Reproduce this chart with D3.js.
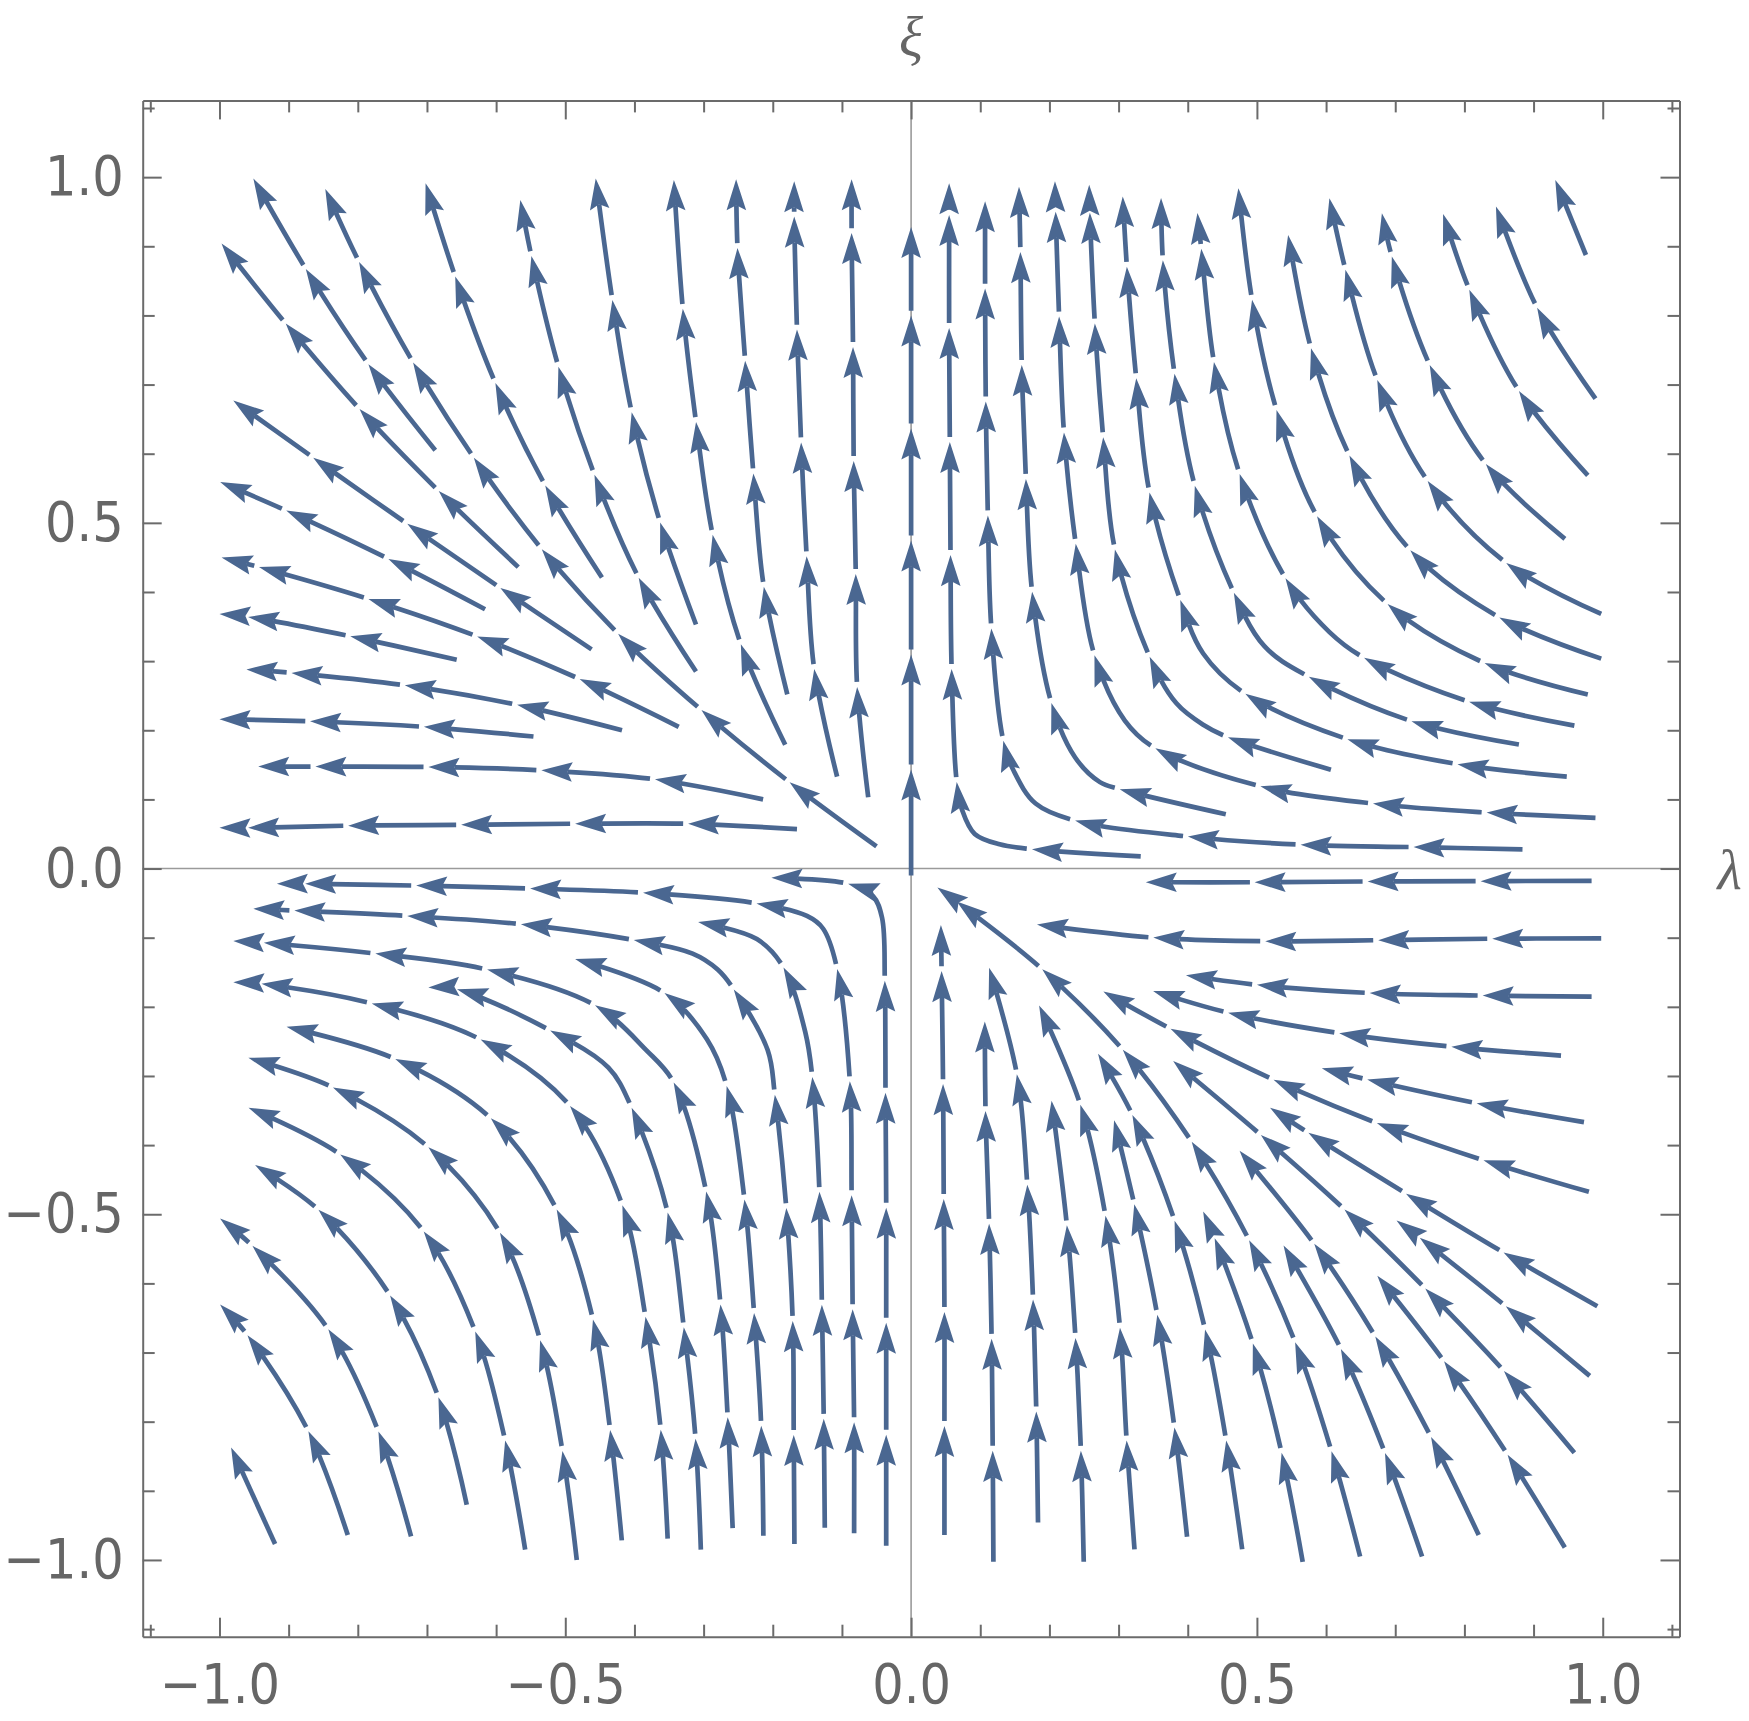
<!DOCTYPE html>
<html lang="en">
<head>
<meta charset="UTF-8">
<script src="https://d3js.org/d3.v7.min.js"></script>
<title>Stream plot</title>
<style>
    body { margin: 0; background: #fff; }
    .tick text { font-family: "DejaVu Sans Condensed", "DejaVu Sans", sans-serif; font-size: 55px; fill: #666; }
    .tick line, .domain { stroke: #6b6b6b; stroke-width: 2; }
    .title { font-family: "Liberation Serif", serif; font-style: italic; font-size: 56px; fill: #666; }
</style>
</head>
<body>
<script>
    // each streamline runs from its tail to its head, points are [lambda, xi]
    // every point after the tail carries an arrowhead, a third value 0 marks a bend point without one
    var upperLeft = [
        [[-0.688, 0.605], [-0.785, 0.730], [-0.875, 0.867], [-0.951, 0.998]],
        [[-0.568, 0.436], [-0.683, 0.546], [-0.797, 0.664], [-0.904, 0.788], [-0.997, 0.904]],
        [[-0.462, 0.317], [-0.594, 0.406], [-0.729, 0.499], [-0.864, 0.594], [-0.980, 0.677]],
        [[-0.616, 0.375], [-0.756, 0.448], [-0.904, 0.518], [-0.999, 0.559]],
        [[-0.336, 0.205], [-0.479, 0.274], [-0.628, 0.336], [-0.785, 0.390], [-0.943, 0.436], [-0.997, 0.450]],
        [[-0.050, 0.032], [-0.176, 0.125], [-0.303, 0.229], [-0.424, 0.340], [-0.534, 0.462], [-0.632, 0.594], [-0.720, 0.732], [-0.798, 0.877], [-0.847, 0.983]],
        [[-0.447, 0.421], [-0.529, 0.554], [-0.601, 0.702], [-0.659, 0.856], [-0.702, 0.991]],
        [[-0.311, 0.285], [-0.394, 0.421], [-0.458, 0.570], [-0.510, 0.726], [-0.549, 0.886], [-0.565, 0.967]],
        [[-0.311, 0.353], [-0.363, 0.501], [-0.404, 0.660], [-0.432, 0.823], [-0.456, 0.998]],
        [[-0.182, 0.179], [-0.246, 0.324], [-0.287, 0.483], [-0.311, 0.646], [-0.330, 0.809], [-0.343, 0.996]],
        [[-0.179, 0.252], [-0.213, 0.408], [-0.228, 0.571], [-0.240, 0.735], [-0.251, 0.897], [-0.253, 0.997]],
        [[-0.107, 0.133], [-0.140, 0.288], [-0.151, 0.451], [-0.159, 0.616], [-0.165, 0.780], [-0.169, 0.943], [-0.169, 0.994]],
        [[-0.062, 0.103], [-0.078, 0.262], [-0.080, 0.426], [-0.083, 0.590], [-0.084, 0.755], [-0.086, 0.919], [-0.086, 0.997]],
        [[0, -0.010], [0, 0.143], [0, 0.309], [0, 0.474], [0, 0.636], [0, 0.800], [0, 0.928]],
        [[-0.657, 0.302], [-0.811, 0.336], [-0.959, 0.364], [-1.0, 0.368]],
        [[-0.418, 0.200], [-0.570, 0.237], [-0.732, 0.265], [-0.896, 0.283], [-0.961, 0.288]],
        [[-0.546, 0.191], [-0.705, 0.205], [-0.869, 0.213], [-1.0, 0.216]],
        [[-0.214, 0.100], [-0.370, 0.129], [-0.534, 0.142], [-0.698, 0.147], [-0.862, 0.1475], [-0.944, 0.1475]],
        [[-0.165, 0.057], [-0.322, 0.0648], [-0.486, 0.0648], [-0.650, 0.0632], [-0.814, 0.062], [-0.958, 0.059], [-1.0, 0.059]]
    ];

    var upperRight = [
        [[0.332, 0.0175], [0.175, 0.028], [0.128, 0.035, 0], [0.092, 0.050, 0], [0.074, 0.084, 0], [0.066, 0.125], [0.0586, 0.288], [0.057, 0.453], [0.056, 0.617], [0.055, 0.781], [0.055, 0.945], [0.055, 0.991]],
        [[0.884, 0.0278], [0.727, 0.031], [0.563, 0.0346], [0.400, 0.0464], [0.237, 0.0694], [0.180, 0.094, 0], [0.149, 0.140, 0], [0.1334, 0.1847], [0.116, 0.348], [0.111, 0.511], [0.108, 0.675], [0.107, 0.839], [0.107, 0.965]],
        [[0.455, 0.0785], [0.301, 0.115], [0.273, 0.125, 0], [0.237, 0.161, 0], [0.203, 0.239], [0.175, 0.400], [0.166, 0.564], [0.160, 0.728], [0.158, 0.892], [0.156, 0.986]],
        [[0.9895, 0.0733], [0.832, 0.081], [0.668, 0.094], [0.505, 0.119], [0.353, 0.174], [0.309, 0.214, 0], [0.265, 0.309], [0.238, 0.470], [0.221, 0.631], [0.214, 0.798], [0.209, 0.950], [0.208, 0.994]],
        [[0.607, 0.143], [0.458, 0.190], [0.4223, 0.208, 0], [0.3836, 0.239, 0], [0.345, 0.306], [0.2946, 0.462], [0.2777, 0.624], [0.2657, 0.788], [0.2585, 0.948], [0.2575, 0.989]],
        [[0.948, 0.133], [0.7902, 0.151], [0.6313, 0.187], [0.483, 0.253], [0.4223, 0.311, 0], [0.389, 0.389], [0.3447, 0.544], [0.3255, 0.709], [0.312, 0.870], [0.306, 0.972]],
        [[0.8788, 0.1794], [0.7238, 0.2131], [0.5744, 0.2777], [0.5108, 0.3216, 0], [0.4665, 0.3992], [0.4101, 0.554], [0.3808, 0.716], [0.364, 0.880], [0.3614, 0.970]],
        [[0.959, 0.2068], [0.8068, 0.2414], [0.6546, 0.305], [0.6049, 0.342, 0], [0.5413, 0.4199], [0.4749, 0.571], [0.4378, 0.733], [0.4195, 0.897], [0.414, 0.948]],
        [[0.9784, 0.2518], [0.829, 0.2973], [0.6889, 0.3827], [0.5872, 0.5092], [0.5284, 0.663], [0.4931, 0.822], [0.4732, 0.984]],
        [[0.9978, 0.3036], [0.851, 0.363], [0.7222, 0.46], [0.6337, 0.5976], [0.5783, 0.752], [0.5451, 0.9164]],
        [[0.9978, 0.3682], [0.8605, 0.4421], [0.7471, 0.5604], [0.6741, 0.7063], [0.6281, 0.8657], [0.6048, 0.9695]],
        [[0.9453, 0.4769], [0.8307, 0.5855], [0.7499, 0.728], [0.6951, 0.885], [0.6807, 0.9478]],
        [[0.9784, 0.5686], [0.8788, 0.6908], [0.8069, 0.8377], [0.7692, 0.9468]],
        [[0.9895, 0.6797], [0.9049, 0.8116], [0.8456, 0.9574]],
        [[0.9757, 0.8874], [0.9314, 0.996]]
    ];

    var lowerLeft = [
        [[-0.0824, -0.9613], [-0.0824, -0.801], [-0.0845, -0.638], [-0.086, -0.4727], [-0.0886, -0.3073], [-0.1067, -0.146], [-0.1274, -0.0867, 0], [-0.1506, -0.0686, 0], [-0.223, -0.0505], [-0.387, -0.035], [-0.551, -0.0288], [-0.715, -0.0247], [-0.876, -0.022], [-0.917, -0.022]],
        [[-0.036, -0.9794], [-0.036, -0.8191], [-0.036, -0.6563], [-0.036, -0.491], [-0.037, -0.3245], [-0.038, -0.1617], [-0.042, -0.0712, 0], [-0.055, -0.040, 0], [-0.0912, -0.022], [-0.202, -0.0133]],
        [[-0.1687, -0.9768], [-0.1697, -0.8191], [-0.1712, -0.6537], [-0.1805, -0.4908], [-0.197, -0.327], [-0.2074, -0.2625, 0], [-0.2565, -0.1746], [-0.2797, -0.146, 0], [-0.3159, -0.123, 0], [-0.4014, -0.1033], [-0.564, -0.0805], [-0.728, -0.0686], [-0.892, -0.0608], [-0.951, -0.058]],
        [[-0.1248, -0.9535], [-0.1263, -0.7959], [-0.129, -0.6304], [-0.1325, -0.4676], [-0.1429, -0.301], [-0.153, -0.2366, 0], [-0.1842, -0.1436], [-0.223, -0.102, 0], [-0.308, -0.0774]],
        [[-0.2136, -0.965], [-0.2167, -0.8062], [-0.227, -0.6434], [-0.241, -0.478], [-0.2668, -0.314], [-0.2952, -0.247, 0], [-0.357, -0.1798], [-0.4858, -0.1307]],
        [[-0.258, -0.954], [-0.2652, -0.7933], [-0.2756, -0.6304], [-0.2962, -0.4676], [-0.343, -0.31], [-0.383, -0.2625, 0], [-0.457, -0.1978], [-0.6135, -0.146], [-0.775, -0.1229], [-0.9365, -0.1074], [-0.98, -0.1048]],
        [[-0.4834, -1.0], [-0.5041, -0.8424], [-0.5364, -0.6821], [-0.5943, -0.527], [-0.698, -0.403], [-0.8353, -0.3168], [-0.9582, -0.2738]],
        [[-0.4183, -0.9717], [-0.4352, -0.8114], [-0.46, -0.652], [-0.5123, -0.4934], [-0.6073, -0.3616], [-0.746, -0.2754], [-0.903, -0.2289]],
        [[-0.304, -0.985], [-0.3117, -0.8243], [-0.3287, -0.663], [-0.352, -0.4975], [-0.404, -0.346], [-0.4376, -0.288, 0], [-0.522, -0.234], [-0.657, -0.1746], [-0.698, -0.172]],
        [[-0.352, -0.969], [-0.362, -0.8114], [-0.384, -0.6485], [-0.4175, -0.487], [-0.493, -0.3435], [-0.623, -0.247], [-0.780, -0.195], [-0.939, -0.1668], [-0.98, -0.1643]],
        [[-0.558, -0.985], [-0.587, -0.827], [-0.6304, -0.6692], [-0.705, -0.5244], [-0.8256, -0.4133], [-0.958, -0.346]],
        [[-0.6425, -0.92], [-0.6834, -0.7649], [-0.7533, -0.6175], [-0.857, -0.4934], [-0.9485, -0.4288]],
        [[-0.723, -0.966], [-0.7702, -0.814], [-0.8425, -0.6666], [-0.952, -0.5461], [-0.9991, -0.5063]],
        [[-0.8145, -0.964], [-0.8714, -0.814], [-0.9591, -0.6754], [-0.9991, -0.6304]],
        [[-0.9196, -0.977], [-0.9832, -0.8372]]
    ];

    var lowerRight = [
        [[0.9839, -0.0177], [0.8235, -0.0182], [0.6602, -0.0187], [0.4969, -0.0198], [0.3393, -0.0198]],
        [[0.9978, -0.101], [0.84, -0.1015], [0.6758, -0.1036], [0.5121, -0.1051], [0.3504, -0.0999], [0.182, -0.081]],
        [[0.9839, -0.1853], [0.8262, -0.1837], [0.663, -0.18], [0.4998, -0.1682], [0.3974, -0.1542]],
        [[0.9397, -0.2705], [0.7808, -0.2576], [0.6187, -0.238], [0.4583, -0.2085], [0.3499, -0.177]],
        [[0.9729, -0.3668], [0.818, -0.3395], [0.659, -0.305], [0.5938, -0.2887]],
        [[0.98, -0.4676], [0.8279, -0.4221], [0.674, -0.3683], [0.5245, -0.3057], [0.3752, -0.2318], [0.278, -0.178]],
        [[0.9922, -0.633], [0.8567, -0.5555], [0.7156, -0.4702], [0.5745, -0.3823], [0.519, -0.346]],
        [[0.9812, -0.7338], [0.86, -0.6332], [0.7356, -0.5342], [0.7019, -0.5091]],
        [[0.959, -0.845], [0.8567, -0.7261], [0.7433, -0.6072], [0.627, -0.4934], [0.5053, -0.3849], [0.3789, -0.2785]],
        [[0.9452, -0.982], [0.8623, -0.8475], [0.7709, -0.7131], [0.6741, -0.589]],
        [[0.8207, -0.964], [0.7515, -0.8217], [0.6713, -0.677], [0.5827, -0.5425], [0.4749, -0.4081]],
        [[0.6492, -0.995], [0.6077, -0.8424], [0.5551, -0.6847], [0.4887, -0.5374], [0.4057, -0.3952], [0.3064, -0.2625], [0.19, -0.146], [0.0663, -0.048], [0.038, -0.0273]],
        [[0.7388, -0.995], [0.6851, -0.845], [0.6215, -0.695], [0.5385, -0.5451]],
        [[0.4787, -0.9846], [0.4555, -0.8269], [0.425, -0.6666], [0.3808, -0.5089], [0.32, -0.3564], [0.2703, -0.2677]],
        [[0.5662, -1.0027], [0.5357, -0.845], [0.4942, -0.6873], [0.4389, -0.5348], [0.4223, -0.496]],
        [[0.399, -0.9665], [0.3808, -0.8088], [0.356, -0.6459], [0.3227, -0.4857], [0.2935, -0.3642]],
        [[0.323, -0.9846], [0.3116, -0.8269], [0.302, -0.664], [0.281, -0.502], [0.2445, -0.3409], [0.1851, -0.1979]],
        [[0.0482, -0.964], [0.0482, -0.8062], [0.0482, -0.6408], [0.0472, -0.478], [0.0462, -0.312], [0.0441, -0.1488], [0.0431, -0.0815]],
        [[0.119, -1.0027], [0.118, -0.8424], [0.1164, -0.6795], [0.1128, -0.5141], [0.1076, -0.3512], [0.1066, -0.2211]],
        [[0.1835, -0.9458], [0.181, -0.7855], [0.1763, -0.6227], [0.168, -0.4572], [0.153, -0.298], [0.1128, -0.1436]],
        [[0.2496, -1.0027], [0.2455, -0.8424], [0.2377, -0.6795], [0.2253, -0.5167], [0.2031, -0.3357]]
    ];

    var majorTicks = [-1, -0.5, 0, 0.5, 1];
    var majorLabels = ["\u22121.0", "\u22120.5", "0.0", "0.5", "1.0"];
    var minorTicks = [-1.1, -0.9, -0.8, -0.7, -0.6, -0.4, -0.3, -0.2, -0.1,
        0.1, 0.2, 0.3, 0.4, 0.6, 0.7, 0.8, 0.9, 1.1];

    var width = 1749, height = 1721;
    var frameLeft = 142.7, frameRight = 1679.5, frameTop = 100.4, frameBottom = 1636.7;
    var color = "#4a6791";
    var headLen = 31, headHalf = 9.8, notch = 26, gap = 5;

    var x = d3.scaleLinear().domain([-1.111, 1.111]).range([frameLeft, frameRight]);
    var y = d3.scaleLinear().domain([-1.111, 1.111]).range([frameBottom, frameTop]);

    var svg = d3.select("body").append("svg")
        .attr("width", width)
        .attr("height", height);

    // zero lines
    svg.append("line")
        .attr("x1", x(0)).attr("x2", x(0)).attr("y1", frameTop).attr("y2", frameBottom)
        .attr("stroke", "#9a9a9a").attr("stroke-width", 1.6);
    svg.append("line")
        .attr("x1", frameLeft).attr("x2", frameRight).attr("y1", y(0)).attr("y2", y(0))
        .attr("stroke", "#9a9a9a").attr("stroke-width", 1.6);

    var lineGen = d3.line()
        .x(function (p) { return x(p[0]); })
        .y(function (p) { return y(p[1]); })
        .curve(d3.curveCatmullRom.alpha(0.5));

    var streamLayer = svg.append("g");
    var headLayer = svg.append("g");

    function drawStream(pts) {
        var path = streamLayer.append("path")
            .attr("d", lineGen(pts))
            .attr("fill", "none")
            .attr("stroke", color)
            .attr("stroke-width", 4.7);
        var node = path.node();
        var total = node.getTotalLength();

        var samples = [];
        for (var s = 0; s < total; s += 1) samples.push([s, node.getPointAtLength(s)]);
        samples.push([total, node.getPointAtLength(total)]);

        // arc length of every data point along the drawn curve
        var from = 0;
        var lens = pts.map(function (p, i) {
            if (i === 0) return 0;
            if (i === pts.length - 1) return total;
            var px = x(p[0]), py = y(p[1]);
            var best = from, bd = Infinity;
            for (var j = from; j < samples.length; j++) {
                var q = samples[j][1];
                var dd = (q.x - px) * (q.x - px) + (q.y - py) * (q.y - py);
                if (dd < bd) { bd = dd; best = j; }
                else if (dd > bd + 900) break;
            }
            from = best;
            return samples[best][0];
        });

        var tips = [];
        pts.forEach(function (p, i) {
            if (i > 0 && p[2] !== 0) tips.push(lens[i]);
        });

        // break the line just after each arrowhead
        var dash = [], pos = 0;
        tips.forEach(function (L) {
            var end = Math.max(pos, L - notch);
            var next = Math.min(total, L + gap);
            dash.push(end - pos, Math.max(0, next - end));
            pos = Math.max(next, end);
        });
        dash.push(0, 10000);
        path.attr("stroke-dasharray", dash.map(function (d) { return d.toFixed(2); }).join(" "));

        tips.forEach(function (L) {
            var p1 = node.getPointAtLength(L);
            var p0 = node.getPointAtLength(Math.max(0, L - 6));
            var ang = Math.atan2(p1.y - p0.y, p1.x - p0.x) * 180 / Math.PI;
            headLayer.append("path")
                .attr("d", "M0,0L" + (-headLen) + "," + (-headHalf) + "L" + (-notch) + ",0L" + (-headLen) + "," + headHalf + "Z")
                .attr("fill", color)
                .attr("transform", "translate(" + p1.x + "," + p1.y + ") rotate(" + ang + ")");
        });
    }

    upperLeft.concat(upperRight, lowerLeft, lowerRight).forEach(drawStream);

    // frame ticks: minor and major, on all four sides, pointing inwards
    function fmt(d, i) { return majorLabels[i]; }

    svg.append("g").attr("transform", "translate(0," + frameBottom + ")")
        .call(d3.axisBottom(x).tickValues(minorTicks).tickSize(-12).tickFormat(""))
        .call(function (g) { g.select(".domain").remove(); });
    svg.append("g").attr("transform", "translate(0," + frameBottom + ")")
        .call(d3.axisBottom(x).tickValues(majorTicks).tickSize(-19).tickSizeOuter(0).tickPadding(27).tickFormat(fmt));

    svg.append("g").attr("transform", "translate(0," + frameTop + ")")
        .call(d3.axisTop(x).tickValues(minorTicks).tickSize(-12).tickFormat(""))
        .call(function (g) { g.select(".domain").remove(); });
    svg.append("g").attr("transform", "translate(0," + frameTop + ")")
        .call(d3.axisTop(x).tickValues(majorTicks).tickSize(-19).tickSizeOuter(0).tickFormat(""));

    svg.append("g").attr("transform", "translate(" + frameLeft + ",0)")
        .call(d3.axisLeft(y).tickValues(minorTicks).tickSize(-12).tickFormat(""))
        .call(function (g) { g.select(".domain").remove(); });
    svg.append("g").attr("transform", "translate(" + frameLeft + ",0)")
        .call(d3.axisLeft(y).tickValues(majorTicks).tickSize(-19).tickSizeOuter(0).tickPadding(19).tickFormat(fmt));

    svg.append("g").attr("transform", "translate(" + frameRight + ",0)")
        .call(d3.axisRight(y).tickValues(minorTicks).tickSize(-12).tickFormat(""))
        .call(function (g) { g.select(".domain").remove(); });
    svg.append("g").attr("transform", "translate(" + frameRight + ",0)")
        .call(d3.axisRight(y).tickValues(majorTicks).tickSize(-19).tickSizeOuter(0).tickFormat(""));

    svg.selectAll(".tick text").attr("font-size", null).attr("font-family", null).attr("fill", "#666");

    svg.append("text").attr("class", "title")
        .attr("x", x(0)).attr("y", 56)
        .attr("text-anchor", "middle")
        .text("\u03BE");
    svg.append("text").attr("class", "title")
        .attr("x", frameRight + 38).attr("y", y(0) + 20)
        .text("\u03BB");
</script>
</body>
</html>
